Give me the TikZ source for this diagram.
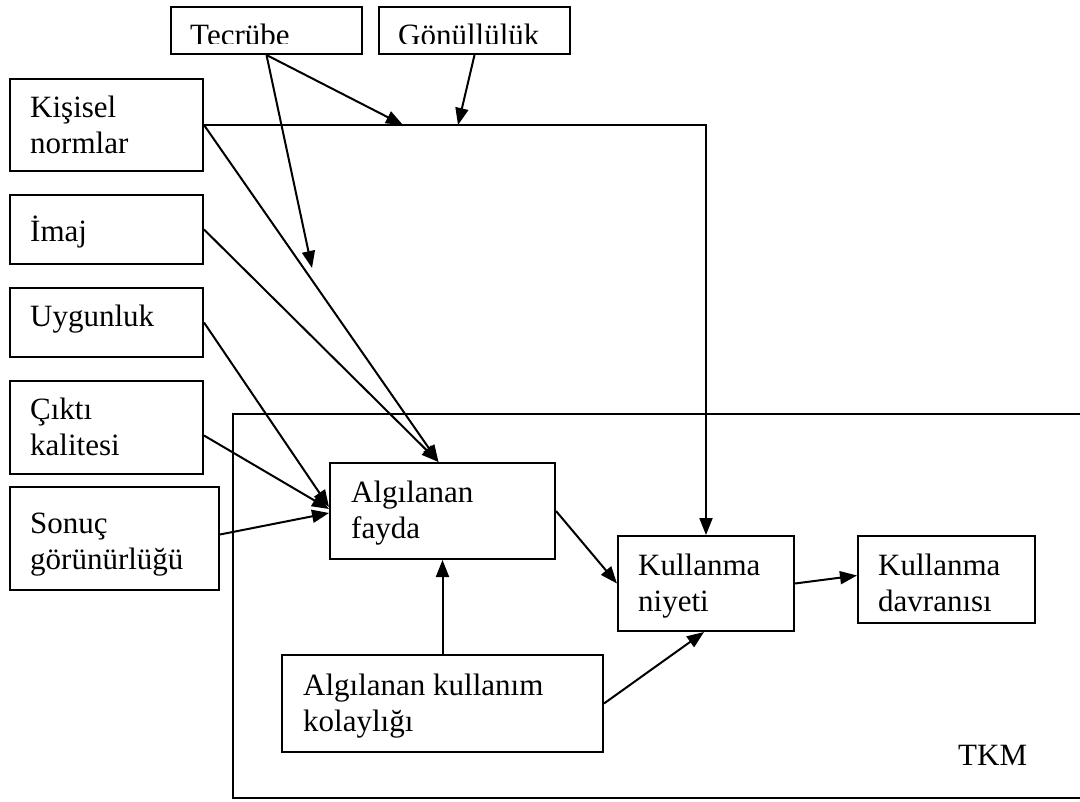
\documentclass[tikz,border=0pt]{standalone}
\usepackage{fontspec}
\setmainfont{Liberation Serif}
\usetikzlibrary{arrows.meta}
\newcommand\boxfont{\fontsize{31}{36}\selectfont}
\newcommand\twolines[2]{\begin{tabular}[t]{@{}l@{}}#1\\#2\end{tabular}}
\begin{document}
\begin{tikzpicture}[x=1pt,y=-1pt,
  box/.style={draw, line width=2pt, anchor=north west, inner sep=0pt},
  txt/.style={anchor=base west, inner sep=0pt, font=\boxfont},
  conn/.style={line width=2pt},
  arr/.style={conn, -{Triangle[length=17pt,width=13pt]}}]
\useasboundingbox (0,0) rectangle (1080,802);

% TKM frame, open to the right
\draw[conn] (1085,414) -- (233,414) -- (233,798) -- (1085,798);
\node[txt] (tkmlbl) at (958,765) {TKM};

% external factors
\node[box, minimum width=191pt, minimum height=47pt] (tec) at (170,6) {};
\node[box, minimum width=191pt, minimum height=47pt] (gon) at (378,6) {};
\node[box, minimum width=193pt, minimum height=92pt] (kis) at (9,78) {};
\node[box, minimum width=193pt, minimum height=69pt] (ima) at (9,194) {};
\node[box, minimum width=193pt, minimum height=69pt] (uyg) at (9,287) {};
\node[box, minimum width=193pt, minimum height=93pt] (cik) at (9,380) {};
\node[box, minimum width=209pt, minimum height=103pt] (son) at (9,486) {};

% model boxes
\node[box, minimum width=225pt, minimum height=96pt] (fay) at (329,462) {};
\node[box, minimum width=176pt, minimum height=95pt] (niy) at (617,535) {};
\node[box, minimum width=177pt, minimum height=87pt] (dav) at (857,535) {};
\node[box, minimum width=321pt, minimum height=97pt] (kol) at (281,654) {};

% box texts
\begin{scope}
  \clip (170,0) rectangle (569,44);
  \node[txt] (tec-t) at (190,46) {Tecrübe};
  \node[txt] (gon-t) at (398,46) {Gönüllülük};
\end{scope}
\node[txt] (kis-t) at (30,118) {\twolines{Kişisel}{normlar}};
\node[txt] (ima-t) at (30,242) {İmaj};
\node[txt] (uyg-t) at (30,327) {Uygunluk};
\node[txt] (cik-t) at (30,420) {\twolines{Çıktı}{kalitesi}};
\node[txt] (son-t) at (30,533) {\twolines{Sonuç}{görünürlüğü}};
\node[txt] (fay-t) at (351,502) {\twolines{Algılanan}{fayda}};
\node[txt] (niy-t) at (638,575) {\twolines{Kullanma}{niyeti}};
\node[txt] (dav-t) at (878,575) {\twolines{Kullanma}{davranısı}};
\node[txt] (kol-t) at (303,695) {\twolines{Algılanan kullanım}{kolaylığı}};

% free ends of the moderating arrows
\coordinate (m1) at (403,125);
\coordinate (m2) at (312,268);
\coordinate (m3) at (458,125);

% connectors
\draw[arr] (kis.east) -| (niy.north);
\draw[arr] (kis.east) -- ([xshift=-4pt]fay.north);
\draw[arr] (ima.east) -- ([xshift=-4pt]fay.north);
\draw[arr] (uyg.east) -- ([yshift=4pt]fay.west);
\draw[arr] ([yshift=-8pt]cik.east) -- ([yshift=2pt]fay.west);
\draw[arr] ([yshift=4pt]son.east) -- ([yshift=-2pt]fay.west);
\draw[arr] (tec.south) -- (m1);
\draw[arr] (tec.south) -- (m2);
\draw[arr] (gon.south) -- (m3);
\draw[arr] (fay.east) -- (niy.west);
\draw[arr] (niy.east) -- ([yshift=4pt]dav.west);
\draw[arr] (kol.north) -- (fay.south);
\draw[arr] (kol.east) -- ([xshift=-2pt]niy.south);
\end{tikzpicture}
\end{document}
